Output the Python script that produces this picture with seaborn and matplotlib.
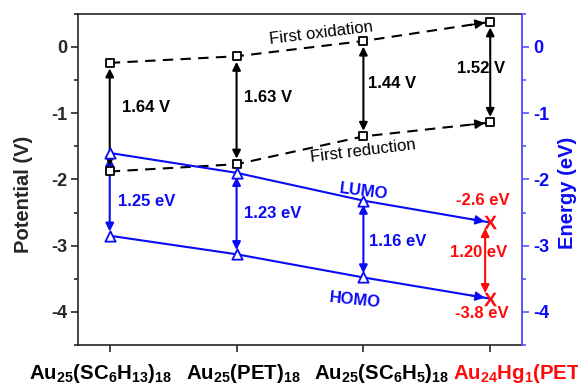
import matplotlib
matplotlib.use('Agg')
import matplotlib.pyplot as plt
from matplotlib.ticker import AutoMinorLocator
import matplotlib.transforms as mtransforms
import seaborn as sns
import numpy as np

# ---------------- data ----------------
categories = [r'$\mathrm{Au_{25}(SC_6H_{13})_{18}}$',
              r'$\mathrm{Au_{25}(PET)_{18}}$',
              r'$\mathrm{Au_{25}(SC_6H_5)_{18}}$',
              r'$\mathrm{Au_{24}Hg_1(PET)_{18}}$']
oxidation = [-0.24, -0.14, 0.09, 0.38]
reduction = [-1.88, -1.77, -1.35, -1.14]
lumo = [-1.60, -1.90, -2.32, -2.65]
homo = [-2.85, -3.13, -3.48, -3.80]
gap_v_labels = ['1.64 V', '1.63 V', '1.44 V', '1.52 V']
gap_ev_labels = ['1.25 eV', '1.23 eV', '1.16 eV', '1.20 eV']
hg_lumo_label = '-2.6 eV'
hg_homo_label = '-3.8 eV'
yticks = [-4, -3, -2, -1, 0]
ytick_labels = ['-4', '-3', '-2', '-1', '0']

# ---------------- style ----------------
sns.set_style('ticks')
plt.rcParams['font.family'] = ['Liberation Sans', 'DejaVu Sans']
plt.rcParams['font.weight'] = 'bold'
plt.rcParams['mathtext.fontset'] = 'custom'
plt.rcParams['mathtext.rm'] = 'Liberation Sans:bold'
plt.rcParams['mathtext.bf'] = 'Liberation Sans:bold'
plt.rcParams['mathtext.it'] = 'Liberation Sans'
plt.rcParams['mathtext.sf'] = 'Liberation Sans'

BLUE = '#0A0AF5'
AXBLUE = '#5555FF'
RED = '#FF0A0A'

fig = plt.figure(figsize=(5.78, 3.90), dpi=100)
ax = fig.add_axes([0.135, 0.1154, 0.768, 0.849])
x = np.arange(len(categories))

# dashed black lines
for series in (oxidation, reduction):
    sns.lineplot(x=x, y=series, color='black', lw=1.5, linestyle=(0, (5, 3.5)), ax=ax, zorder=2)
    f = 0.85
    ax.annotate('', xy=(x[3], series[3]),
                xytext=(x[2] + f * (x[3] - x[2]), series[2] + f * (series[3] - series[2])),
                arrowprops=dict(arrowstyle='-|>', color='black', lw=1.2, shrinkA=0, shrinkB=4,
                                mutation_scale=14), zorder=3)
    sns.scatterplot(x=x, y=series, marker='s', s=26, facecolor='white', edgecolor='black',
                    linewidth=1.3, ax=ax, zorder=5)

# blue lines (LUMO, HOMO)
for series in (lumo, homo):
    sns.lineplot(x=x, y=series, color=BLUE, lw=1.5, ax=ax, zorder=2)
    f = 0.85
    ax.annotate('', xy=(x[3], series[3]),
                xytext=(x[2] + f * (x[3] - x[2]), series[2] + f * (series[3] - series[2])),
                arrowprops=dict(arrowstyle='-|>', color=BLUE, lw=1.2, shrinkA=0, shrinkB=4,
                                mutation_scale=14), zorder=3)
    sns.scatterplot(x=x[:3], y=series[:3], marker='^', s=55, facecolor='white', edgecolor=BLUE,
                    linewidth=1.3, ax=ax, zorder=5)
    sns.scatterplot(x=x[3:], y=series[3:], marker=r'$X$', s=95, color=RED,
                    linewidth=0, ax=ax, zorder=6)

# vertical double arrows
for i in range(3):
    ax.annotate('', xy=(x[i], homo[i]), xytext=(x[i], lumo[i]),
                arrowprops=dict(arrowstyle='<|-|>', color=BLUE, lw=1.5, shrinkA=3, shrinkB=3,
                                mutation_scale=12), zorder=3)
ax.annotate('', xy=(x[3] - 0.04, homo[3]), xytext=(x[3] - 0.04, lumo[3]),
            arrowprops=dict(arrowstyle='<|-|>', color=RED, lw=1.5, shrinkA=4, shrinkB=4,
                            mutation_scale=12), zorder=3)
for i in range(4):
    ax.annotate('', xy=(x[i], reduction[i]), xytext=(x[i], oxidation[i]),
                arrowprops=dict(arrowstyle='<|-|>', color='black', lw=1.5, shrinkA=4, shrinkB=4,
                                mutation_scale=12), zorder=4)

# text labels (layout positions)
fs = 12
v_pos = [(0.095, -0.92), (0.055, -0.76), (0.04, -0.55)]
for i, (dx, yy) in enumerate(v_pos):
    ax.text(x[i] + dx, yy, gap_v_labels[i], fontsize=fs, fontweight='bold', color='black',
            ha='left', va='center')
ax.text(x[3] - 0.075, -0.32, gap_v_labels[3], fontsize=fs, fontweight='bold', color='black',
        ha='center', va='center', zorder=2)
ev_pos = [(0.063, -2.34), (0.055, -2.51), (0.045, -2.94)]
for i, (dx, yy) in enumerate(ev_pos):
    ax.text(x[i] + dx, yy, gap_ev_labels[i], fontsize=fs, fontweight='bold', color=BLUE,
            ha='left', va='center')
ax.text(x[3] - 0.09, -3.11, gap_ev_labels[3], fontsize=fs, fontweight='bold', color=RED,
        ha='center', va='center', zorder=2)
ax.text(x[3] - 0.06, -2.32, hg_lumo_label, fontsize=fs, fontweight='bold', color=RED,
        ha='center', va='center')
ax.text(x[3] - 0.07, -4.03, hg_homo_label, fontsize=fs, fontweight='bold', color=RED,
        ha='center', va='center')
ax.text(2.0, -2.18, 'LUMO', fontsize=fs, fontweight='bold', color=BLUE, ha='center',
        va='center', rotation=-7)
ax.text(1.93, -3.82, 'HOMO', fontsize=fs, fontweight='bold', color=BLUE, ha='center',
        va='center', rotation=-6)
ax.text(1.67, 0.21, 'First oxidation', fontsize=12, fontweight='normal', color='black',
        ha='center', va='center', rotation=7)
ax.text(2.0, -1.57, 'First reduction', fontsize=12, fontweight='normal', color='black',
        ha='center', va='center', rotation=7)

# axes
ax.set_xlim(-0.25, 3.25)
ax.set_ylim(-4.5, 0.5)
ax.set_xticks(x)
ax.set_xticklabels([''] * len(x))
label_shift_px = [-9, 7, 18, 38]
blend = mtransforms.blended_transform_factory(ax.transData, ax.transAxes)
for i, (cat, c, dpx) in enumerate(zip(categories, ['black', 'black', 'black', RED], label_shift_px)):
    tr = blend + mtransforms.ScaledTranslation(dpx / 100, -12.5 / 72, fig.dpi_scale_trans)
    ax.text(x[i], 0, cat, transform=tr, fontsize=14.7, color=c, ha='center', va='top',
            clip_on=False)
ax.set_yticks(yticks)
ax.set_yticklabels(ytick_labels, fontsize=13, fontweight='bold')
ax.yaxis.set_minor_locator(AutoMinorLocator(2))
ax.tick_params(axis='both', which='major', direction='out', length=5, width=1.2, pad=3)
ax.tick_params(axis='y', which='minor', direction='out', length=3, width=1.2)
ax.set_ylabel('Potential (V)', fontsize=14.5, fontweight='bold')
ax.yaxis.set_label_coords(-0.101, 0.456)
for s in ax.spines.values():
    s.set_linewidth(1.2)
    s.set_visible(True)
ax.spines['right'].set_color(AXBLUE)

ax2 = ax.twinx()
ax2.set_ylim(ax.get_ylim())
ax2.set_yticks(yticks)
ax2.set_yticklabels(ytick_labels, fontsize=13, fontweight='bold', color=BLUE)
ax2.yaxis.set_minor_locator(AutoMinorLocator(2))
ax2.tick_params(axis='y', which='major', direction='out', length=5, width=1.2, color=AXBLUE, pad=3)
ax2.tick_params(axis='y', which='minor', direction='out', length=3, width=1.2, color=AXBLUE)
ax2.set_ylabel('Energy (eV)', fontsize=14.5, fontweight='bold', color=BLUE)
ax2.yaxis.set_label_coords(1.081, 0.46)
for s in ax2.spines.values():
    s.set_visible(False)
ax2.spines['right'].set_visible(True)
ax2.spines['right'].set_color(AXBLUE)
ax2.spines['right'].set_linewidth(1.2)

fig.savefig('out.png', dpi=100)
